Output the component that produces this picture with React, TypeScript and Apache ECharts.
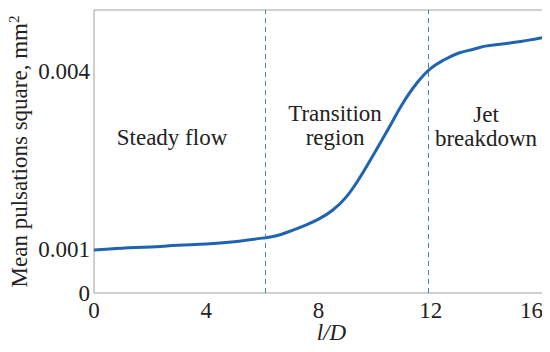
import React, { useEffect, useRef } from "react";
import * as echarts from "echarts";

const xValues = [0, 1, 2, 3, 4, 5, 6, 6.5, 7, 7.5, 8, 8.5, 9, 9.5, 10, 10.5, 11, 11.5, 12, 12.5, 13, 13.5, 14, 15, 16];
const yValues = [0.00100, 0.00103, 0.00105, 0.00108, 0.00110, 0.00114, 0.00120, 0.00124, 0.00132, 0.00141, 0.00152, 0.00167, 0.00190, 0.00224, 0.00264, 0.00305, 0.00347, 0.00381, 0.00406, 0.00421, 0.00432, 0.00438, 0.00444, 0.00450, 0.00458];
const regionBounds = [6.1, 11.9];
const yTickValues = [0.000275, 0.001, 0.004];
const regionLabels = ["Steady flow", "Transition\nregion", "Jet\nbreakdown"];

const FONT = "'Liberation Serif', 'DejaVu Serif', serif";

export default function App() {
  const ref = useRef<HTMLDivElement>(null);
  useEffect(() => {
    if (!ref.current) return;
    const chart = echarts.init(ref.current, null, { renderer: "svg" });
    const data = xValues.map((x, i) => [x, yValues[i]]);
    chart.setOption({
      animation: false,
      grid: {
        left: 94,
        right: 7,
        top: 10,
        bottom: 59,
        containLabel: false,
        outerBoundsMode: "none",
        show: true,
        borderColor: "#a0a0a0",
        borderWidth: 1,
        backgroundColor: "#fff",
      },
      xAxis: {
        type: "value",
        min: 0,
        max: 16,
        interval: 4,
        name: "l/D",
        nameLocation: "middle",
        nameGap: 28,
        nameMoveOverlap: false,
        nameTextStyle: { fontFamily: FONT, fontSize: 23, fontStyle: "italic", color: "#222", padding: [0, 0, 0, 26] },
        axisLine: { show: false },
        axisTick: { show: false },
        splitLine: { show: false },
        axisLabel: { fontFamily: FONT, fontSize: 23, color: "#222", margin: 6, alignMaxLabel: "right" },
      },
      yAxis: {
        type: "value",
        min: yTickValues[0],
        max: 0.005045,
        name: "Mean pulsations square, mm{sup|2}",
        nameLocation: "middle",
        nameGap: 62,
        nameMoveOverlap: false,
        nameRotate: 90,
        nameTextStyle: {
          fontFamily: FONT,
          fontSize: 23,
          color: "#222",
          lineHeight: 26,
          rich: {
            sup: { fontFamily: FONT, fontSize: 15, color: "#222", verticalAlign: "top", lineHeight: 26, padding: [0, 0, 9, 0] },
          },
        },
        axisLine: { show: false },
        axisTick: { show: false },
        splitLine: { show: false },
        axisLabel: {
          customValues: yTickValues,
          fontFamily: FONT,
          fontSize: 23,
          color: "#222",
          margin: 4,
          formatter: (v: number) => (v < 0.0005 ? "0" : v.toFixed(3)),
        },
      },
      graphic: [
        { type: "text", x: 172, y: 137, style: { text: regionLabels[0], font: `23px ${FONT}`, fill: "#222", align: "center", verticalAlign: "middle" } },
        { type: "text", x: 335, y: 125, style: { text: regionLabels[1], font: `23px ${FONT}`, fill: "#222", align: "center", verticalAlign: "middle", lineHeight: 24 } },
        { type: "text", x: 486, y: 126, style: { text: regionLabels[2], font: `23px ${FONT}`, fill: "#222", align: "center", verticalAlign: "middle", lineHeight: 24 } },
      ],
      series: [
        {
          type: "line",
          data,
          smooth: 0.4,
          showSymbol: false,
          lineStyle: { color: "#1e64b0", width: 3 },
          markLine: {
            silent: true,
            symbol: "none",
            label: { show: false },
            lineStyle: { color: "#4f7ea6", width: 1, type: [5, 4] },
            data: regionBounds.map((x) => ({ xAxis: x })),
          },
        },
      ],
    });
    return () => chart.dispose();
  }, []);
  return <div ref={ref} style={{ width: 550, height: 352, margin: -8 }} />;
}
